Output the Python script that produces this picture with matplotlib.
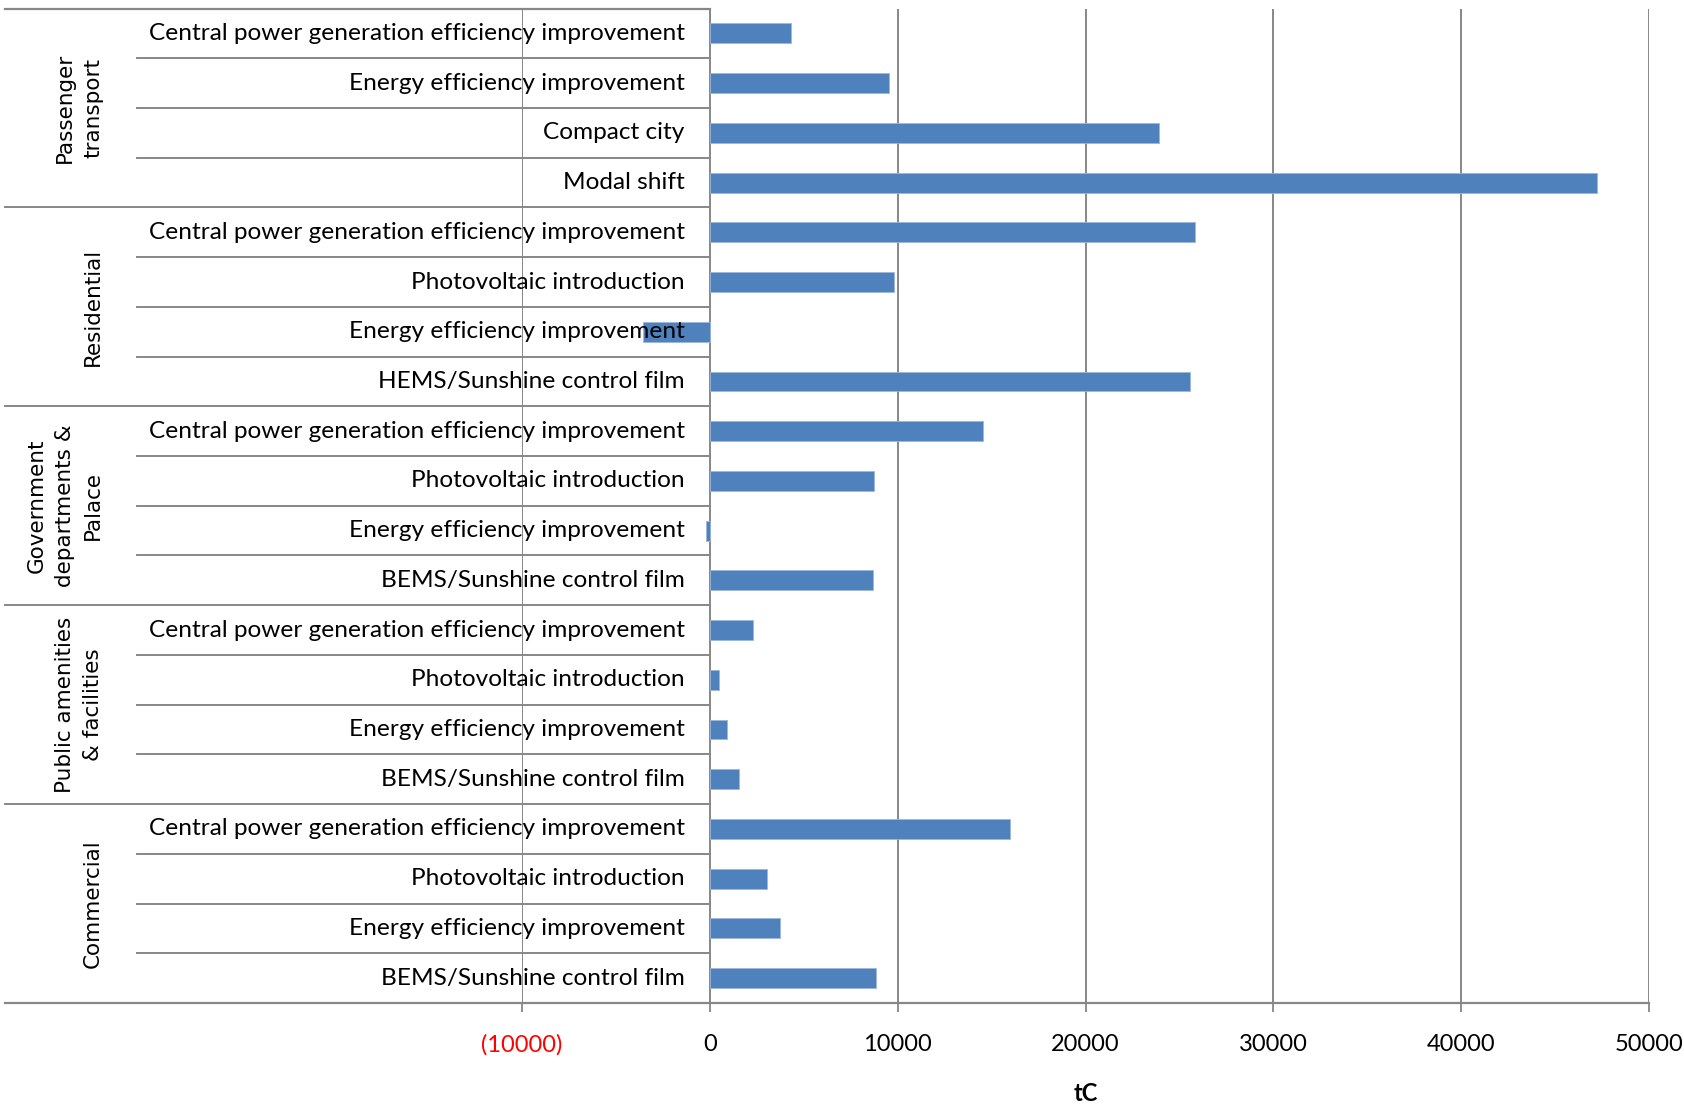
import matplotlib.pyplot as plt
import numpy as np

# CO2 reduction by measure, grouped by sector (tC)
groups = ['Passenger\ntransport', 'Residential', 'Government\ndepartments &\nPalace',
          'Public amenities\n& facilities', 'Commercial']
measures = [
    ['Central power generation efficiency improvement', 'Energy efficiency improvement',
     'Compact city', 'Modal shift'],
    ['Central power generation efficiency improvement', 'Photovoltaic introduction',
     'Energy efficiency improvement', 'HEMS/Sunshine control film'],
    ['Central power generation efficiency improvement', 'Photovoltaic introduction',
     'Energy efficiency improvement', 'BEMS/Sunshine control film'],
    ['Central power generation efficiency improvement', 'Photovoltaic introduction',
     'Energy efficiency improvement', 'BEMS/Sunshine control film'],
    ['Central power generation efficiency improvement', 'Photovoltaic introduction',
     'Energy efficiency improvement', 'BEMS/Sunshine control film'],
]
values = [
    [4300, 9550, 23900, 47250],
    [25850, 9820, -3580, 25570],
    [14530, 8740, -180, 8700],
    [2280, 500, 890, 1550],
    [16000, 3050, 3730, 8830],
]
tick_values = [-10000, 0, 10000, 20000, 30000, 40000, 50000]
tick_labels = ['(10000)', '0', '10000', '20000', '30000', '40000', '50000']

bar_color = '#4F81BD'
grid_color = '#878787'

plt.rcParams['font.family'] = ['Lato', 'DejaVu Sans']

fig = plt.figure(figsize=(16.84, 11.10), dpi=100)
ax = fig.add_axes([0.31, 0.0964, 0.6692, 0.8959])

labels = sum(measures, [])
vals = sum(values, [])
n = len(vals)
y = np.arange(n) + 0.5

ax.barh(y, vals, height=0.4, color=bar_color, edgecolor='#9db7dc', linewidth=0.6, zorder=2)
ax.set_xlim(-10000, 50000)
ax.set_ylim(n, 0)

for s in ax.spines.values():
    s.set_visible(False)
ax.set_yticks([])
ax.set_xticks(tick_values, tick_labels)
ax.tick_params(axis='x', length=6.5, width=1.3, color=grid_color, pad=16, labelsize=17)
ax.get_xticklabels()[0].set_color('red')
ax.grid(axis='x', color=grid_color, linewidth=1.4)
ax.set_axisbelow(True)

# label area extends left of the plot
left_group = -37550
left_row = -30500

ax.plot([left_group, 50000], [n, n], color=grid_color, lw=1.6, clip_on=False, zorder=1)
ax.plot([left_group, 0], [0, 0], color=grid_color, lw=1.6, clip_on=False, zorder=1)
for i in range(1, n):
    x0 = left_group if i % 4 == 0 else left_row
    ax.plot([x0, 0], [i, i], color=grid_color, lw=1.4, clip_on=False, zorder=1)

for yi, lab in zip(y, labels):
    ax.annotate(lab, xy=(0, yi), xytext=(-18, 0), textcoords='offset points',
                ha='right', va='center', fontsize=17.6, zorder=5, annotation_clip=False)

for g, name in enumerate(groups):
    ax.text(-32300, 4 * g + 2, name, rotation=90, ha='right', va='center',
            multialignment='center', fontsize=15.5, linespacing=1.5, family='DejaVu Sans')

ax.set_xlabel('tC', fontweight='bold', fontsize=17, labelpad=19)

fig.savefig('out.png', dpi=100)
